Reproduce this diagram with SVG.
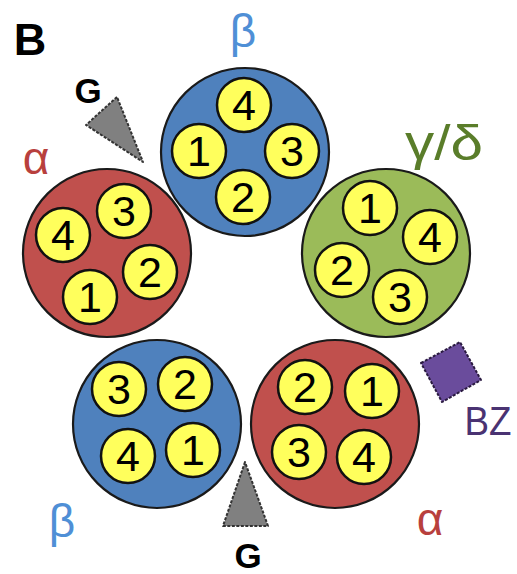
<svg xmlns="http://www.w3.org/2000/svg" width="517" height="574" viewBox="0 0 517 574">
<style>
.big{stroke:#1a1a1a;stroke-width:2.2}
.blue{fill:#4f81bd}
.red{fill:#c0504d}
.green{fill:#9bbb59}
.sub{fill:#ffff5c;stroke:#111;stroke-width:2.5}
.num{font-family:"Liberation Sans",Arial,sans-serif;font-size:43px;fill:#000;text-anchor:middle}
.lbl{font-family:"Liberation Sans",Arial,sans-serif;text-anchor:middle}
.tri{fill:#808080;stroke:#333;stroke-width:2;stroke-dasharray:3 1.5;stroke-linejoin:round}
</style>
<rect width="517" height="574" fill="#fff"/>
<text x="30" y="55" class="lbl" font-size="45" font-weight="bold" fill="#000">B</text>

<g id="beta-top">
<circle cx="245" cy="152" r="84" class="big blue"/>
<circle cx="244" cy="105" r="27" class="sub"/><text x="244" y="120" class="num">4</text>
<circle cx="199" cy="151" r="27" class="sub"/><text x="199" y="166" class="num">1</text>
<circle cx="292" cy="151" r="27" class="sub"/><text x="292" y="166" class="num">3</text>
<circle cx="243" cy="197" r="27" class="sub"/><text x="243" y="212" class="num">2</text>
<text x="243" y="47" class="lbl" font-size="46" fill="#4f8fd6">β</text>
</g>

<g id="alpha-left">
<circle cx="107" cy="253" r="84" class="big red"/>
<circle cx="124" cy="211" r="27" class="sub"/><text x="124" y="226" class="num">3</text>
<circle cx="63" cy="235" r="27" class="sub"/><text x="63" y="250" class="num">4</text>
<circle cx="150" cy="272" r="27" class="sub"/><text x="150" y="287" class="num">2</text>
<circle cx="90" cy="297" r="27" class="sub"/><text x="90" y="312" class="num">1</text>
<text x="36" y="174" class="lbl" font-size="46" fill="#b8403d">α</text>
</g>

<g id="gamma-delta">
<circle cx="386" cy="253" r="84" class="big green"/>
<circle cx="370" cy="208" r="27" class="sub"/><text x="370" y="223" class="num">1</text>
<circle cx="430" cy="237" r="27" class="sub"/><text x="430" y="252" class="num">4</text>
<circle cx="342" cy="270" r="27" class="sub"/><text x="342" y="285" class="num">2</text>
<circle cx="400" cy="297" r="27" class="sub"/><text x="400" y="312" class="num">3</text>
<text x="444" y="160" class="lbl" font-size="50" fill="#5a7d2a" textLength="78" lengthAdjust="spacingAndGlyphs">γ/δ</text>
</g>

<g id="beta-bottom">
<circle cx="157" cy="424" r="84" class="big blue"/>
<circle cx="119" cy="389" r="27" class="sub"/><text x="119" y="404" class="num">3</text>
<circle cx="185" cy="384" r="27" class="sub"/><text x="185" y="399" class="num">2</text>
<circle cx="128" cy="456" r="27" class="sub"/><text x="128" y="471" class="num">4</text>
<circle cx="193" cy="450" r="27" class="sub"/><text x="193" y="465" class="num">1</text>
<text x="62" y="537" class="lbl" font-size="46" fill="#4f8fd6">β</text>
</g>

<g id="alpha-bottom">
<circle cx="335" cy="424" r="84" class="big red"/>
<circle cx="305" cy="387" r="27" class="sub"/><text x="305" y="402" class="num">2</text>
<circle cx="372" cy="391" r="27" class="sub"/><text x="372" y="406" class="num">1</text>
<circle cx="299" cy="452" r="27" class="sub"/><text x="299" y="467" class="num">3</text>
<circle cx="364" cy="457" r="27" class="sub"/><text x="364" y="472" class="num">4</text>
<text x="430" y="535" class="lbl" font-size="46" fill="#b8403d">α</text>
</g>

<g id="G-top">
<polygon points="117,97 86,125 143,162" class="tri"/>
<text x="88" y="103" class="lbl" font-size="35" font-weight="bold" fill="#000">G</text>
</g>

<g id="G-bottom">
<polygon points="245,462 223,526 268,526" class="tri"/>
<text x="248" y="568" class="lbl" font-size="35" font-weight="bold" fill="#000">G</text>
</g>

<g id="BZ">
<polygon points="421,363 460,342 481,380 442,402" fill="#6a4c9c" stroke="#2a1a40" stroke-width="2" stroke-dasharray="3 1.5" stroke-linejoin="round"/>
<text x="488" y="435" class="lbl" font-size="41" fill="#4a3372" textLength="47" lengthAdjust="spacingAndGlyphs">BZ</text>
</g>
<g id="connectors"/>
</svg>
